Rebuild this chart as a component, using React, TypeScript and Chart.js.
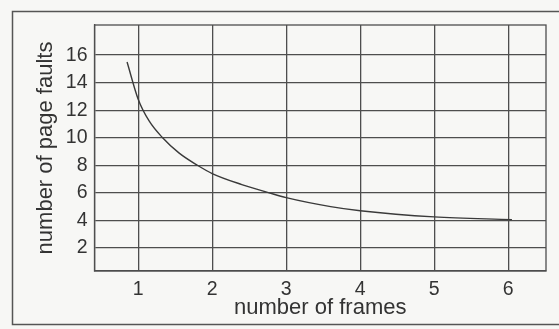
import React, { useEffect, useRef } from 'react';
import { Chart, registerables } from 'chart.js';

Chart.register(...registerables);

// Curve (number of frames -> number of page faults)
const FRAMES = [0.85, 1.0, 1.15, 1.33, 1.55, 1.8, 2.0, 2.4, 2.77, 3.0, 3.6, 4.0, 5.0, 6.05];
const FAULTS = [15.5, 12.8, 11.2, 10.0, 8.9, 8.0, 7.4, 6.6, 6.0, 5.65, 5.0, 4.7, 4.25, 4.05];

const X_TICKS = [1, 2, 3, 4, 5, 6];
const Y_TICKS = [2, 4, 6, 8, 10, 12, 14, 16];

const X_TITLE = 'number of frames';
const Y_TITLE = 'number of page faults';

const FONT = "'Liberation Sans', Arial, Helvetica, sans-serif";
const INK = '#333333';
const GRID = '#4e4e4e';
const PAPER = '#f7f7f5';

export default function App() {
  const ref = useRef<HTMLCanvasElement>(null);

  useEffect(() => {
    if (!ref.current) return;
    const framePlugin = {
      id: 'framePlugin',
      beforeDraw(chart: any) {
        const ctx = chart.ctx;
        ctx.save();
        ctx.fillStyle = PAPER;
        ctx.fillRect(0, 0, chart.width, chart.height);
        ctx.restore();
      },
      afterDraw(chart: any) {
        const ctx = chart.ctx;
        const a = chart.chartArea;
        ctx.save();
        ctx.strokeStyle = GRID;
        ctx.lineWidth = 1.3;
        ctx.strokeRect(a.left, a.top, a.right - a.left, a.bottom - a.top);
        ctx.lineWidth = 1.5;
        ctx.strokeStyle = '#555555';
        ctx.strokeRect(12.5, 11.5, 600, 313);
        ctx.restore();
      },
    };

    const chart = new Chart(ref.current, {
      type: 'line',
      data: {
        datasets: [
          {
            data: FRAMES.map((x, i) => ({ x, y: FAULTS[i] })),
            borderColor: '#3a3a3a',
            borderWidth: 1.4,
            pointRadius: 0,
            cubicInterpolationMode: 'monotone',
            fill: false,
          },
        ],
      },
      options: {
        responsive: false,
        animation: false,
        layout: { padding: { left: 0, top: 25, right: 13, bottom: 0 } },
        plugins: { legend: { display: false }, tooltip: { enabled: false } },
        scales: {
          x: {
            type: 'linear',
            min: 0.41,
            max: 6.51,
            afterBuildTicks: (s: any) => {
              s.ticks = X_TICKS.map((v) => ({ value: v }));
            },
            afterFit: (s: any) => {
              s.height = 58;
            },
            grid: { color: GRID, lineWidth: 1.3, drawTicks: false },
            border: { color: GRID, width: 1.3 },
            ticks: {
              padding: 7,
              color: INK,
              font: { family: FONT, size: 19.5 },
              maxRotation: 0,
              autoSkip: false,
            },
            title: {
              display: true,
              text: X_TITLE,
              color: INK,
              font: { family: FONT, size: 22 },
              padding: { top: 0, bottom: 8 },
            },
          },
          y: {
            type: 'linear',
            min: 0.32,
            max: 18.19,
            afterBuildTicks: (s: any) => {
              s.ticks = Y_TICKS.map((v) => ({ value: v }));
            },
            afterFit: (s: any) => {
              s.width = 94.5;
            },
            grid: { color: GRID, lineWidth: 1.3, drawTicks: false },
            border: { color: GRID, width: 1.3 },
            ticks: {
              padding: 7,
              color: INK,
              font: { family: FONT, size: 19.5 },
              autoSkip: false,
            },
            title: {
              display: true,
              text: Y_TITLE,
              color: INK,
              font: { family: FONT, size: 22 },
              padding: { top: 33, bottom: 0 },
            },
          },
        },
      },
      plugins: [framePlugin],
    } as any);

    return () => chart.destroy();
  }, []);

  return (
    <div style={{ position: 'fixed', left: 0, top: 0, width: 559, height: 329 }}>
      <canvas ref={ref} width={559} height={329} style={{ display: 'block' }} />
    </div>
  );
}
